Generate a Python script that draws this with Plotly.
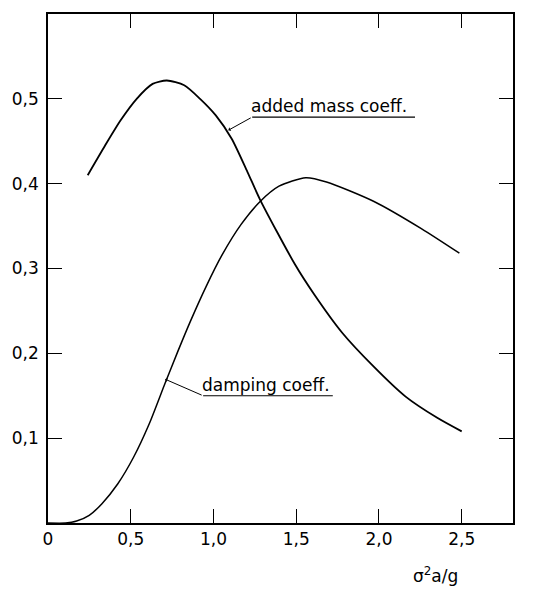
import plotly.graph_objects as go

# Added mass coefficient curve
am_x = [0.24, 0.345, 0.44, 0.536, 0.632, 0.718, 0.823, 0.919, 1.014, 1.110,
        1.205, 1.282, 1.492, 1.607, 1.779, 1.970, 2.161, 2.352, 2.50]
am_y = [0.410, 0.445, 0.475, 0.500, 0.5176, 0.5216, 0.516, 0.500, 0.4805, 0.453,
        0.414, 0.381, 0.305, 0.270, 0.224, 0.184, 0.149, 0.124, 0.108]

# Damping coefficient curve
dc_x = [0.0, 0.106, 0.173, 0.249, 0.326, 0.421, 0.517, 0.612, 0.708, 0.784, 0.861,
        0.956, 1.052, 1.167, 1.282, 1.396, 1.558, 1.683, 1.970, 2.256, 2.486]
dc_y = [0.0, 0.0, 0.0023, 0.009, 0.0228, 0.046, 0.0775, 0.117, 0.165, 0.202, 0.238,
        0.279, 0.316, 0.352, 0.379, 0.397, 0.407, 0.402, 0.379, 0.347, 0.318]

x_tickvals = [0, 0.5, 1.0, 1.5, 2.0, 2.5]
x_ticktext = ["0", "0,5", "1,0", "1,5", "2,0", "2,5"]
y_tickvals = [0.1, 0.2, 0.3, 0.4, 0.5]
y_ticktext = ["0,1", "0,2", "0,3", "0,4", "0,5"]

labels = ["added mass coeff.", "damping coeff."]
label_head = [(1.090, 0.463), (0.708, 0.1695)]
label_start = [(1.234, 0.4785), (0.9375, 0.150)]
label_end = [2.218, 1.721]

FONT = "DejaVu Sans"

fig = go.Figure()
fig.add_trace(go.Scatter(x=am_x, y=am_y, mode="lines",
                         line=dict(color="black", width=1.8, shape="spline", smoothing=0.7),
                         showlegend=False, hoverinfo="skip"))
fig.add_trace(go.Scatter(x=dc_x, y=dc_y, mode="lines",
                         line=dict(color="black", width=1.5, shape="spline", smoothing=0.7),
                         showlegend=False, hoverinfo="skip"))

for txt, head, start, xe in zip(labels, label_head, label_start, label_end):
    # leader line with small arrow
    fig.add_annotation(x=head[0], y=head[1], ax=start[0], ay=start[1],
                       xref="x", yref="y", axref="x", ayref="y", text="",
                       showarrow=True, arrowhead=1, arrowsize=0.7, arrowwidth=1,
                       arrowcolor="black")
    # underline
    fig.add_shape(type="line", x0=start[0], y0=start[1], x1=xe, y1=start[1],
                  xref="x", yref="y", line=dict(color="black", width=1.2))
    # text
    fig.add_annotation(x=start[0], y=start[1], xref="x", yref="y", text=txt,
                       showarrow=False, xanchor="left", yanchor="bottom",
                       yshift=-1, xshift=-3,
                       font=dict(family=FONT, size=17, color="black"))

fig.add_annotation(x=0.887, y=-0.128, xref="paper", yref="paper",
                   text="σ<sup>2</sup>a/g", showarrow=False,
                   font=dict(family=FONT, size=17, color="black"))

fig.update_xaxes(range=[0, 2.81], tickvals=x_tickvals, ticktext=x_ticktext,
                 ticks="inside", ticklen=14, tickwidth=1.4, tickcolor="black",
                 showline=True, linecolor="black", linewidth=1.6, mirror="ticks",
                 showgrid=False, zeroline=False,
                 tickfont=dict(family=FONT, size=17, color="black"))
fig.update_yaxes(range=[0, 0.600], tickvals=y_tickvals, ticktext=y_ticktext,
                 ticks="inside", ticklen=14, tickwidth=1.4, tickcolor="black",
                 showline=True, linecolor="black", linewidth=1.6, mirror="ticks",
                 showgrid=False, zeroline=False, ticklabelstandoff=4,
                 tickfont=dict(family=FONT, size=17, color="black"))

# the page body adds an 8px offset, so the figure is 8px smaller than the window
fig.update_layout(width=540, height=586, plot_bgcolor="white", paper_bgcolor="white",
                  margin=dict(l=36, r=35, t=4, b=71), showlegend=False)

fig.write_html("out.html")
